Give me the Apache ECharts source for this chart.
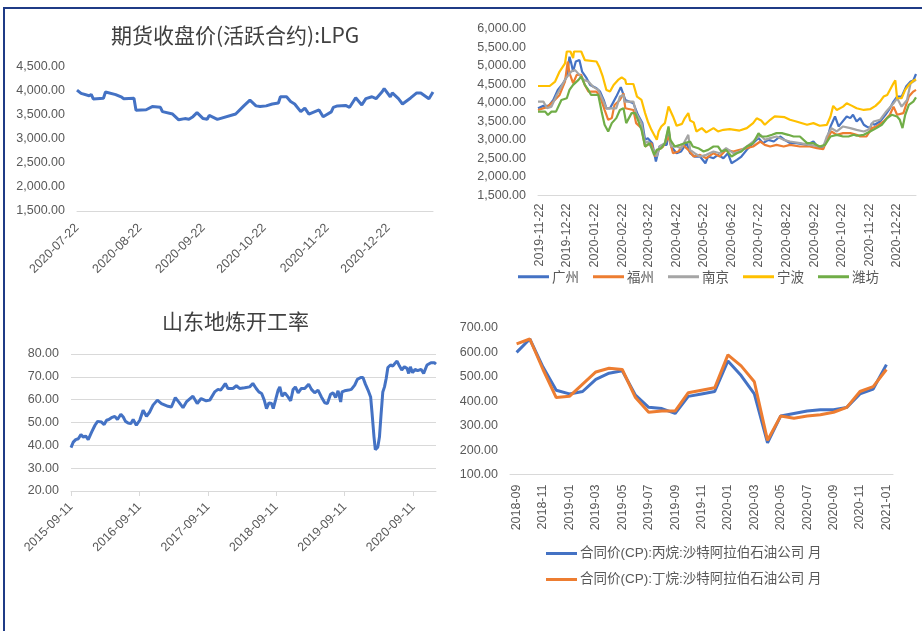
<!DOCTYPE html>
<html>
<head>
<meta charset="utf-8">
<script src="https://cdn.jsdelivr.net/npm/echarts@6/dist/echarts.min.js"></script>
<style>
  html, body { margin: 0; padding: 0; background: #fff; }
  #main { position: absolute; left: 0; top: 0; width: 922px; height: 631px; }
  #frame { position: absolute; left: 3px; top: 7px; width: 919px; height: 624px; box-sizing: border-box;
           border-top: 2px solid #1f3b86; border-left: 2px solid #1f3b86; pointer-events: none; }
</style>
</head>
<body>
<div id="main"></div>
<div id="frame"></div>
<script>
// 期货收盘价(活跃合约):LPG
var lpgTicks = ['2020-07-22', '2020-08-22', '2020-09-22', '2020-10-22', '2020-11-22', '2020-12-22'];
var lpgClose = [
  ['2020-07-22', 4020], ['2020-07-24', 3950], ['2020-07-28', 3900], ['2020-07-29', 3930], ['2020-07-30', 3835],
  ['2020-08-04', 3850], ['2020-08-05', 3980], ['2020-08-10', 3925], ['2020-08-13', 3870], ['2020-08-14', 3840],
  ['2020-08-19', 3850], ['2020-08-20', 3600], ['2020-08-25', 3610], ['2020-08-28', 3675], ['2020-09-01', 3660],
  ['2020-09-02', 3570], ['2020-09-07', 3520], ['2020-09-10', 3400], ['2020-09-13', 3425], ['2020-09-15', 3410],
  ['2020-09-17', 3465], ['2020-09-19', 3550], ['2020-09-22', 3425], ['2020-09-24', 3410], ['2020-09-25', 3490],
  ['2020-09-29', 3410], ['2020-10-08', 3520], ['2020-10-12', 3690], ['2020-10-15', 3810], ['2020-10-18', 3690],
  ['2020-10-20', 3675], ['2020-10-23', 3690], ['2020-10-26', 3730], ['2020-10-29', 3750], ['2020-10-30', 3880],
  ['2020-11-02', 3880], ['2020-11-04', 3780], ['2020-11-06', 3730], ['2020-11-09', 3570], ['2020-11-11', 3645],
  ['2020-11-13', 3520], ['2020-11-18', 3605], ['2020-11-20', 3465], ['2020-11-24', 3565], ['2020-11-25', 3660],
  ['2020-11-27', 3690], ['2020-12-01', 3700], ['2020-12-03', 3660], ['2020-12-06', 3860], ['2020-12-09', 3710],
  ['2020-12-11', 3840], ['2020-12-14', 3880], ['2020-12-16', 3840], ['2020-12-19', 3985], ['2020-12-20', 4050],
  ['2020-12-23', 3880], ['2020-12-24', 3960], ['2020-12-27', 3840], ['2020-12-29', 3730], ['2021-01-02', 3855],
  ['2021-01-05', 3960], ['2021-01-07', 3960], ['2021-01-11', 3840], ['2021-01-13', 3980]
];

// 各地液化气价格
var cityNames = ['广州', '福州', '南京', '宁波', '潍坊'];
var cityTicks = ['2019-11-22', '2019-12-22', '2020-01-22', '2020-02-22', '2020-03-22', '2020-04-22', '2020-05-22',
  '2020-06-22', '2020-07-22', '2020-08-22', '2020-09-22', '2020-10-22', '2020-11-22', '2020-12-22'];
var gzPrice = [
  ['2019-11-20', 3850], ['2019-11-26', 3915], ['2019-12-02', 3915], ['2019-12-07', 4075], ['2019-12-12', 4345],
  ['2019-12-18', 4525], ['2019-12-22', 4705], ['2019-12-25', 5240], ['2019-12-27', 5060], ['2019-12-29', 4840],
  ['2020-01-01', 5110], ['2020-01-05', 5150], ['2020-01-08', 4840], ['2020-01-13', 4660], ['2020-01-17', 4480],
  ['2020-01-24', 4390], ['2020-01-28', 4300], ['2020-02-01', 4075], ['2020-02-04', 3850], ['2020-02-08', 3850],
  ['2020-02-12', 4030], ['2020-02-15', 4165], ['2020-02-20', 4420], ['2020-02-22', 4390], ['2020-02-25', 4075],
  ['2020-03-05', 3985], ['2020-03-07', 4030], ['2020-03-10', 3675], ['2020-03-15', 3450], ['2020-03-18', 3000],
  ['2020-03-21', 3045], ['2020-03-26', 2910], ['2020-03-30', 2415], ['2020-04-03', 2820], ['2020-04-07', 2865],
  ['2020-04-11', 2865], ['2020-04-13', 3225], ['2020-04-16', 2820], ['2020-04-22', 2640], ['2020-04-27', 2685],
  ['2020-05-03', 2910], ['2020-05-07', 2640], ['2020-05-12', 2550], ['2020-05-18', 2550], ['2020-05-24', 2370],
  ['2020-05-27', 2550], ['2020-06-02', 2505], ['2020-06-07', 2595], ['2020-06-13', 2505], ['2020-06-18', 2640],
  ['2020-06-22', 2370], ['2020-06-28', 2460], ['2020-07-03', 2550], ['2020-07-09', 2730], ['2020-07-16', 2910],
  ['2020-07-22', 3050], ['2020-07-27', 2910], ['2020-08-02', 3000], ['2020-08-08', 2955], ['2020-08-15', 3090],
  ['2020-08-20', 3000], ['2020-08-26', 2910], ['2020-09-02', 2910], ['2020-09-14', 2865], ['2020-09-21', 2955],
  ['2020-09-27', 2775], ['2020-10-02', 2820], ['2020-10-06', 3000], ['2020-10-10', 3360], ['2020-10-15', 3630],
  ['2020-10-19', 3360], ['2020-10-22', 3450], ['2020-10-28', 3630], ['2020-11-01', 3585], ['2020-11-04', 3675],
  ['2020-11-08', 3495], ['2020-11-12', 3585], ['2020-11-16', 3405], ['2020-11-19', 3360], ['2020-11-23', 3315],
  ['2020-11-25', 3450], ['2020-11-28', 3405], ['2020-12-04', 3495], ['2020-12-10', 3675], ['2020-12-15', 3850],
  ['2020-12-19', 4030], ['2020-12-23', 4165], ['2020-12-28', 4165], ['2021-01-02', 4435], ['2021-01-07', 4570],
  ['2021-01-10', 4600], ['2021-01-13', 4775]
];
var fzPrice = [
  ['2019-11-20', 3805], ['2019-11-30', 3880], ['2019-12-07', 4030], ['2019-12-14', 4210], ['2019-12-20', 4570],
  ['2019-12-23', 5110], ['2019-12-25', 4795], ['2019-12-29', 4525], ['2020-01-02', 4750], ['2020-01-07', 4750],
  ['2020-01-11', 4480], ['2020-01-15', 4300], ['2020-01-24', 4300], ['2020-01-28', 4165], ['2020-02-02', 3805],
  ['2020-02-06', 3540], ['2020-02-10', 3585], ['2020-02-13', 3940], ['2020-02-19', 4075], ['2020-02-23', 4255],
  ['2020-02-25', 3850], ['2020-03-05', 3805], ['2020-03-08', 3450], ['2020-03-14', 3315], ['2020-03-18', 2820],
  ['2020-03-21', 2865], ['2020-03-25', 2910], ['2020-03-29', 2550], ['2020-04-02', 2730], ['2020-04-07', 2820],
  ['2020-04-13', 3090], ['2020-04-18', 2640], ['2020-04-24', 2685], ['2020-04-29', 2865], ['2020-05-05', 2730],
  ['2020-05-11', 2550], ['2020-05-18', 2595], ['2020-05-25', 2505], ['2020-06-02', 2640], ['2020-06-09', 2550],
  ['2020-06-16', 2730], ['2020-06-24', 2685], ['2020-07-01', 2730], ['2020-07-09', 2775], ['2020-07-16', 2820],
  ['2020-07-24', 2955], ['2020-07-29', 2865], ['2020-08-04', 2820], ['2020-08-11', 2865], ['2020-08-19', 2820],
  ['2020-08-26', 2865], ['2020-09-06', 2820], ['2020-09-17', 2820], ['2020-09-25', 2775], ['2020-10-02', 2750],
  ['2020-10-06', 3000], ['2020-10-11', 3225], ['2020-10-17', 3135], ['2020-10-24', 3180], ['2020-11-01', 3180],
  ['2020-11-08', 3135], ['2020-11-12', 3090], ['2020-11-19', 3090], ['2020-11-25', 3315], ['2020-11-30', 3360],
  ['2020-12-08', 3495], ['2020-12-15', 3675], ['2020-12-19', 3895], ['2020-12-23', 3675], ['2020-12-30', 3720],
  ['2021-01-05', 4165], ['2021-01-10', 4300], ['2021-01-13', 4345]
];
var njPrice = [
  ['2019-11-20', 4030], ['2019-11-26', 4030], ['2019-11-30', 3850], ['2019-12-05', 3895], ['2019-12-10', 4165],
  ['2019-12-16', 4435], ['2019-12-21', 4660], ['2019-12-23', 4705], ['2019-12-27', 4840], ['2019-12-31', 4885],
  ['2020-01-05', 4750], ['2020-01-10', 4615], ['2020-01-15', 4570], ['2020-01-20', 4435], ['2020-01-26', 4345],
  ['2020-01-31', 4075], ['2020-02-04', 3850], ['2020-02-15', 3850], ['2020-02-19', 4165], ['2020-02-23', 4210],
  ['2020-02-24', 4030], ['2020-03-05', 4030], ['2020-03-08', 3720], ['2020-03-14', 3450], ['2020-03-18', 2910],
  ['2020-03-21', 2955], ['2020-03-27', 2730], ['2020-03-31', 2550], ['2020-04-03', 2820], ['2020-04-09', 2910],
  ['2020-04-13', 3315], ['2020-04-16', 2820], ['2020-04-22', 2820], ['2020-04-27', 2775], ['2020-05-05', 3135],
  ['2020-05-07', 2730], ['2020-05-12', 2640], ['2020-05-18', 2550], ['2020-05-25', 2595], ['2020-06-02', 2685],
  ['2020-06-09', 2640], ['2020-06-16', 2775], ['2020-06-24', 2640], ['2020-07-01', 2685], ['2020-07-09', 2820],
  ['2020-07-16', 2955], ['2020-07-24', 3135], ['2020-07-29', 3000], ['2020-08-04', 3045], ['2020-08-11', 3090],
  ['2020-08-19', 3000], ['2020-08-26', 2955], ['2020-09-06', 2910], ['2020-09-17', 2865], ['2020-09-27', 2820],
  ['2020-10-02', 2820], ['2020-10-06', 3090], ['2020-10-11', 3315], ['2020-10-17', 3225], ['2020-10-24', 3360],
  ['2020-11-01', 3315], ['2020-11-08', 3270], ['2020-11-16', 3225], ['2020-11-21', 3270], ['2020-11-27', 3495],
  ['2020-12-04', 3540], ['2020-12-11', 3765], ['2020-12-19', 3985], ['2020-12-23', 4120], ['2020-12-28', 3895],
  ['2021-01-03', 4075], ['2021-01-07', 4525], ['2021-01-10', 4570], ['2021-01-13', 4615]
];
var nbPrice = [
  ['2019-11-20', 4450], ['2019-12-03', 4450], ['2019-12-09', 4570], ['2019-12-14', 4840], ['2019-12-20', 5060],
  ['2019-12-22', 5380], ['2019-12-26', 5380], ['2019-12-29', 5200], ['2019-12-30', 5380], ['2020-01-07', 5380],
  ['2020-01-11', 5150], ['2020-01-24', 5110], ['2020-01-27', 4970], ['2020-01-31', 4700], ['2020-02-04', 4345],
  ['2020-02-08', 4300], ['2020-02-12', 4480], ['2020-02-17', 4615], ['2020-02-21', 4685], ['2020-02-25', 4615],
  ['2020-02-26', 4505], ['2020-03-05', 4505], ['2020-03-09', 4165], ['2020-03-14', 4075], ['2020-03-18', 3720],
  ['2020-03-21', 3495], ['2020-03-25', 3270], ['2020-03-31', 3000], ['2020-04-02', 3225], ['2020-04-05', 3360],
  ['2020-04-09', 3450], ['2020-04-13', 3900], ['2020-04-15', 3940], ['2020-04-18', 3630], ['2020-04-22', 3380],
  ['2020-04-28', 3430], ['2020-05-01', 3580], ['2020-05-05', 3720], ['2020-05-07', 3520], ['2020-05-11', 3470],
  ['2020-05-14', 3225], ['2020-05-20', 3315], ['2020-05-25', 3200], ['2020-06-02', 3315], ['2020-06-07', 3225],
  ['2020-06-13', 3270], ['2020-06-20', 3290], ['2020-07-01', 3250], ['2020-07-09', 3315], ['2020-07-16', 3450],
  ['2020-07-20', 3580], ['2020-07-25', 3520], ['2020-07-29', 3405], ['2020-08-04', 3540], ['2020-08-09', 3630],
  ['2020-08-20', 3610], ['2020-08-26', 3540], ['2020-09-02', 3495], ['2020-09-14', 3405], ['2020-09-21', 3450],
  ['2020-09-28', 3380], ['2020-10-06', 3405], ['2020-10-10', 3630], ['2020-10-13', 3915], ['2020-10-17', 3805],
  ['2020-10-24', 3895], ['2020-10-28', 3985], ['2020-11-03', 3915], ['2020-11-08', 3850], ['2020-11-16', 3805],
  ['2020-11-23', 3825], ['2020-11-29', 3915], ['2020-12-04', 4030], ['2020-12-08', 4165], ['2020-12-12', 4210],
  ['2020-12-15', 4345], ['2020-12-19', 4525], ['2020-12-21', 4600], ['2020-12-23', 4120], ['2020-12-28', 4120],
  ['2021-01-01', 4345], ['2021-01-05', 4480], ['2021-01-10', 4595], ['2021-01-13', 4630]
];
var wfPrice = [
  ['2019-11-20', 3760], ['2019-11-28', 3760], ['2019-12-01', 3670], ['2019-12-05', 3760], ['2019-12-10', 3760],
  ['2019-12-16', 4075], ['2019-12-22', 4120], ['2019-12-25', 4345], ['2019-12-29', 4480], ['2020-01-04', 4615],
  ['2020-01-07', 4705], ['2020-01-11', 4480], ['2020-01-15', 4345], ['2020-01-18', 4210], ['2020-01-26', 4210],
  ['2020-01-30', 3720], ['2020-02-02', 3405], ['2020-02-06', 3225], ['2020-02-10', 3450], ['2020-02-15', 3585],
  ['2020-02-19', 3805], ['2020-02-23', 3850], ['2020-02-26', 3450], ['2020-02-28', 3405], ['2020-03-03', 3720],
  ['2020-03-07', 3720], ['2020-03-10', 3540], ['2020-03-14', 3270], ['2020-03-18', 2820], ['2020-03-23', 2910],
  ['2020-03-28', 2595], ['2020-03-31', 2730], ['2020-04-05', 2775], ['2020-04-09', 2910], ['2020-04-13', 3360],
  ['2020-04-15', 3000], ['2020-04-20', 2820], ['2020-04-26', 2865], ['2020-05-01', 2910], ['2020-05-07', 2955],
  ['2020-05-10', 2820], ['2020-05-16', 2775], ['2020-05-22', 2685], ['2020-05-27', 2730], ['2020-06-02', 2820],
  ['2020-06-07', 2820], ['2020-06-11', 2685], ['2020-06-16', 2730], ['2020-06-22', 2550], ['2020-06-28', 2640],
  ['2020-07-03', 2685], ['2020-07-09', 2820], ['2020-07-16', 2910], ['2020-07-22', 3180], ['2020-07-25', 3090],
  ['2020-07-31', 3090], ['2020-08-06', 3135], ['2020-08-11', 3180], ['2020-08-17', 3180], ['2020-08-24', 3135],
  ['2020-08-30', 3090], ['2020-09-06', 3090], ['2020-09-14', 2910], ['2020-09-21', 2910], ['2020-09-28', 2820],
  ['2020-10-04', 2865], ['2020-10-10', 3090], ['2020-10-17', 3135], ['2020-10-24', 3090], ['2020-10-30', 3090],
  ['2020-11-05', 3135], ['2020-11-08', 3110], ['2020-11-16', 3135], ['2020-11-23', 3225], ['2020-11-30', 3315],
  ['2020-12-06', 3405], ['2020-12-12', 3585], ['2020-12-17', 3675], ['2020-12-23', 3630], ['2020-12-26', 3540],
  ['2020-12-29', 3315], ['2021-01-01', 3675], ['2021-01-05', 3940], ['2021-01-10', 4030], ['2021-01-13', 4145]
];

// 山东地炼开工率
var rateTicks = ['2015-09-11', '2016-09-11', '2017-09-11', '2018-09-11', '2019-09-11', '2020-09-11'];
var sdRate = [
  ['2015-09-11', 39.0], ['2015-09-23', 41.4], ['2015-10-06', 42.5], ['2015-10-20', 42.9], ['2015-11-03', 44.7],
  ['2015-11-16', 43.6], ['2015-11-28', 44.1], ['2015-12-12', 42.5], ['2015-12-30', 45.8], ['2016-01-17', 48.8],
  ['2016-01-31', 50.5], ['2016-02-21', 50.2], ['2016-03-06', 49.1], ['2016-03-19', 51.0], ['2016-03-31', 51.3],
  ['2016-04-14', 52.1], ['2016-05-02', 52.7], ['2016-05-16', 51.3], ['2016-06-03', 53.6], ['2016-06-16', 52.4],
  ['2016-06-28', 50.5], ['2016-07-12', 49.8], ['2016-07-26', 49.5], ['2016-08-08', 51.3], ['2016-08-25', 48.8],
  ['2016-09-12', 51.0], ['2016-09-30', 55.4], ['2016-10-18', 52.7], ['2016-11-04', 54.6], ['2016-11-22', 57.6],
  ['2016-12-15', 59.8], ['2017-01-06', 58.3], ['2017-02-10', 57.1], ['2017-02-28', 56.8], ['2017-03-21', 60.9],
  ['2017-04-08', 59.0], ['2017-05-01', 56.5], ['2017-05-19', 59.0], ['2017-06-23', 61.5], ['2017-07-16', 58.3],
  ['2017-08-06', 60.5], ['2017-09-02', 59.5], ['2017-09-21', 59.8], ['2017-10-17', 63.4], ['2017-11-04', 64.5],
  ['2017-11-18', 64.2], ['2017-12-01', 65.6], ['2017-12-13', 67.1], ['2017-12-27', 64.9], ['2018-01-23', 64.9],
  ['2018-02-10', 66.1], ['2018-02-27', 64.9], ['2018-03-26', 65.2], ['2018-04-22', 65.6], ['2018-05-09', 67.1],
  ['2018-05-27', 64.9], ['2018-06-10', 63.4], ['2018-06-25', 62.7], ['2018-07-09', 59.8], ['2018-07-21', 56.1],
  ['2018-08-03', 58.6], ['2018-08-17', 58.3], ['2018-08-26', 56.1], ['2018-09-07', 59.8], ['2018-09-21', 64.2],
  ['2018-09-30', 65.6], ['2018-10-12', 61.5], ['2018-10-27', 63.0], ['2018-11-13', 61.2], ['2018-11-27', 59.5],
  ['2018-12-10', 64.5], ['2018-12-22', 65.6], ['2019-01-06', 63.0], ['2019-01-23', 64.9], ['2019-02-10', 64.9],
  ['2019-03-03', 66.8], ['2019-03-18', 64.5], ['2019-04-04', 63.0], ['2019-04-22', 64.2], ['2019-05-10', 61.2],
  ['2019-05-28', 58.6], ['2019-06-11', 58.3], ['2019-06-28', 62.4], ['2019-07-11', 63.0], ['2019-07-25', 60.9],
  ['2019-08-07', 63.9], ['2019-08-21', 59.0], ['2019-08-28', 63.4], ['2019-09-11', 63.9], ['2019-10-03', 64.2],
  ['2019-10-17', 64.5], ['2019-11-04', 66.4], ['2019-11-18', 68.9], ['2019-12-06', 69.7], ['2019-12-18', 69.7],
  ['2019-12-31', 66.8], ['2020-01-14', 64.2], ['2020-01-28', 61.2], ['2020-02-04', 54.6], ['2020-02-15', 43.6],
  ['2020-02-22', 38.1], ['2020-03-06', 39.2], ['2020-03-15', 43.6], ['2020-03-24', 53.9], ['2020-04-02', 63.4],
  ['2020-04-11', 65.6], ['2020-04-20', 69.3], ['2020-04-29', 74.1], ['2020-05-13', 75.2], ['2020-05-25', 74.7],
  ['2020-06-03', 75.6], ['2020-06-17', 76.9], ['2020-06-30', 74.7], ['2020-07-12', 73.0], ['2020-07-26', 74.4],
  ['2020-08-09', 73.7], ['2020-08-18', 71.5], ['2020-08-27', 74.4], ['2020-09-08', 71.8], ['2020-09-21', 73.3],
  ['2020-10-05', 72.7], ['2020-10-23', 73.3], ['2020-11-06', 71.5], ['2020-11-24', 75.2], ['2020-12-15', 76.2],
  ['2021-01-02', 76.2], ['2021-01-11', 75.6]
];

// 沙特CP合同价
var cpNames = ['合同价(CP):丙烷:沙特阿拉伯石油公司 月', '合同价(CP):丁烷:沙特阿拉伯石油公司 月'];
var cpMonths = ['2018-09', '2018-10', '2018-11', '2018-12', '2019-01', '2019-02', '2019-03', '2019-04', '2019-05',
  '2019-06', '2019-07', '2019-08', '2019-09', '2019-10', '2019-11', '2019-12', '2020-01', '2020-02', '2020-03',
  '2020-04', '2020-05', '2020-06', '2020-07', '2020-08', '2020-09', '2020-10', '2020-11', '2020-12', '2021-01'];
var cpPropane = [600, 655, 540, 445, 430, 440, 490, 515, 525, 425, 375, 370, 350, 420, 430, 440,
  565, 505, 430, 230, 340, 350, 360, 365, 365, 375, 430, 450, 550];
var cpButane = [635, 655, 530, 415, 420, 470, 520, 535, 530, 415, 355, 360, 360, 435, 445, 455,
  590, 545, 480, 240, 340, 330, 340, 345, 355, 375, 440, 460, 530];

var colors = ['#4472c4', '#ed7d31', '#a5a5a5', '#ffc000', '#70ad47'];
var gray = '#d9d9d9';
var font = "'Liberation Sans', 'Noto Sans CJK SC', sans-serif";
var cjk = "'Noto Sans CJK SC', sans-serif";

// 日期按本地时间转成时间戳，横轴用数值轴画
var ts = function (s) { return +echarts.number.parseDate(s); };
var ymd = function (v) { return echarts.time.format(v, '{yyyy}-{MM}-{dd}', false); };
var money = function (v) {
  return v.toLocaleString('en-US', { minimumFractionDigits: 2, maximumFractionDigits: 2 });
};
var dated = function (rows) { return rows.map(function (r) { return [ts(r[0]), r[1]]; }); };

function dateAxis(grid, ticks, min, max, rotate, showTick, margin) {
  return {
    type: 'value', gridIndex: grid, min: ts(min), max: ts(max), scale: true,
    axisLine: { show: true, onZero: false, lineStyle: { color: gray } },
    axisTick: { show: showTick, customValues: ticks.map(ts), length: 5, lineStyle: { color: gray } },
    splitLine: { show: false },
    axisLabel: {
      customValues: ticks.map(ts), formatter: ymd, rotate: rotate, margin: margin,
      color: '#595959', fontSize: 12.5, fontFamily: font, hideOverlap: false
    }
  };
}

function valueAxis(grid, min, max, step, split) {
  return {
    type: 'value', gridIndex: grid, min: min, max: max, interval: step,
    axisLine: { show: false }, axisTick: { show: false },
    splitLine: { show: split, lineStyle: { color: gray, width: 1 } },
    axisLabel: { formatter: money, color: '#595959', fontSize: 12.5, fontFamily: font, margin: 12 }
  };
}

function line(name, data, color, width, xi) {
  return {
    name: name, type: 'line', data: data, xAxisIndex: xi, yAxisIndex: xi,
    symbol: 'none', color: color, lineStyle: { width: width, color: color }
  };
}

var chart = echarts.init(document.getElementById('main'));
var cityData = [gzPrice, fzPrice, njPrice, nbPrice, wfPrice];
var titleText = { fontSize: 21, fontWeight: 'normal', color: '#404040', fontFamily: cjk };

var option = {
  backgroundColor: '#fff',
  animation: false,
  title: [
    { text: '期货收盘价(活跃合约):LPG', left: 111, top: 25, padding: 0, textStyle: titleText },
    { text: '山东地炼开工率', left: 162, top: 311, padding: 0, textStyle: titleText }
  ],
  legend: [
    { data: cityNames, left: 518, top: 270, padding: 0, icon: 'rect', itemWidth: 31, itemHeight: 3, itemGap: 14,
      textStyle: { color: '#595959', fontSize: 13.5, fontFamily: cjk, padding: [0, 0, 0, -2] } },
    { data: cpNames, orient: 'vertical', left: 546, top: 545, padding: 0, icon: 'rect', itemWidth: 31, itemHeight: 3,
      itemGap: 9, textStyle: { color: '#595959', fontSize: 13.5, lineHeight: 17, fontFamily: font, padding: [0, 0, 0, -2] } }
  ],
  grid: [
    { left: 77, top: 67, width: 356, height: 144 },
    { left: 538, top: 28.5, width: 378, height: 167 },
    { left: 71, top: 354, width: 365, height: 137 },
    { left: 510, top: 328, width: 383, height: 146.5 }
  ],
  xAxis: [
    dateAxis(0, lpgTicks, '2020-07-22', '2021-01-13', 45, false, 15),
    dateAxis(1, cityTicks, '2019-11-20', '2021-01-13', 90, false, 8),
    dateAxis(2, rateTicks, '2015-09-11', '2021-01-11', 45, true, 14),
    {
      type: 'category', gridIndex: 3, data: cpMonths, boundaryGap: true,
      axisLine: { lineStyle: { color: gray } },
      axisTick: { interval: 1, length: 5, lineStyle: { color: gray } },
      axisLabel: { interval: 1, rotate: 90, margin: 10, color: '#595959', fontSize: 12.5, fontFamily: font }
    }
  ],
  yAxis: [
    valueAxis(0, 1500, 4500, 500, false),
    valueAxis(1, 1500, 6000, 500, false),
    valueAxis(2, 20, 80, 10, true),
    valueAxis(3, 100, 700, 100, false)
  ],
  series: [line('LPG', dated(lpgClose), colors[0], 3, 0)]
    .concat(cityNames.map(function (n, i) { return line(n, dated(cityData[i]), colors[i], 2.2, 1); }))
    .concat([
      line('开工率', dated(sdRate), colors[0], 3, 2),
      line(cpNames[0], cpPropane, colors[0], 3, 3),
      line(cpNames[1], cpButane, colors[1], 3, 3)
    ])
};

chart.setOption(option);
</script>
</body>
</html>
